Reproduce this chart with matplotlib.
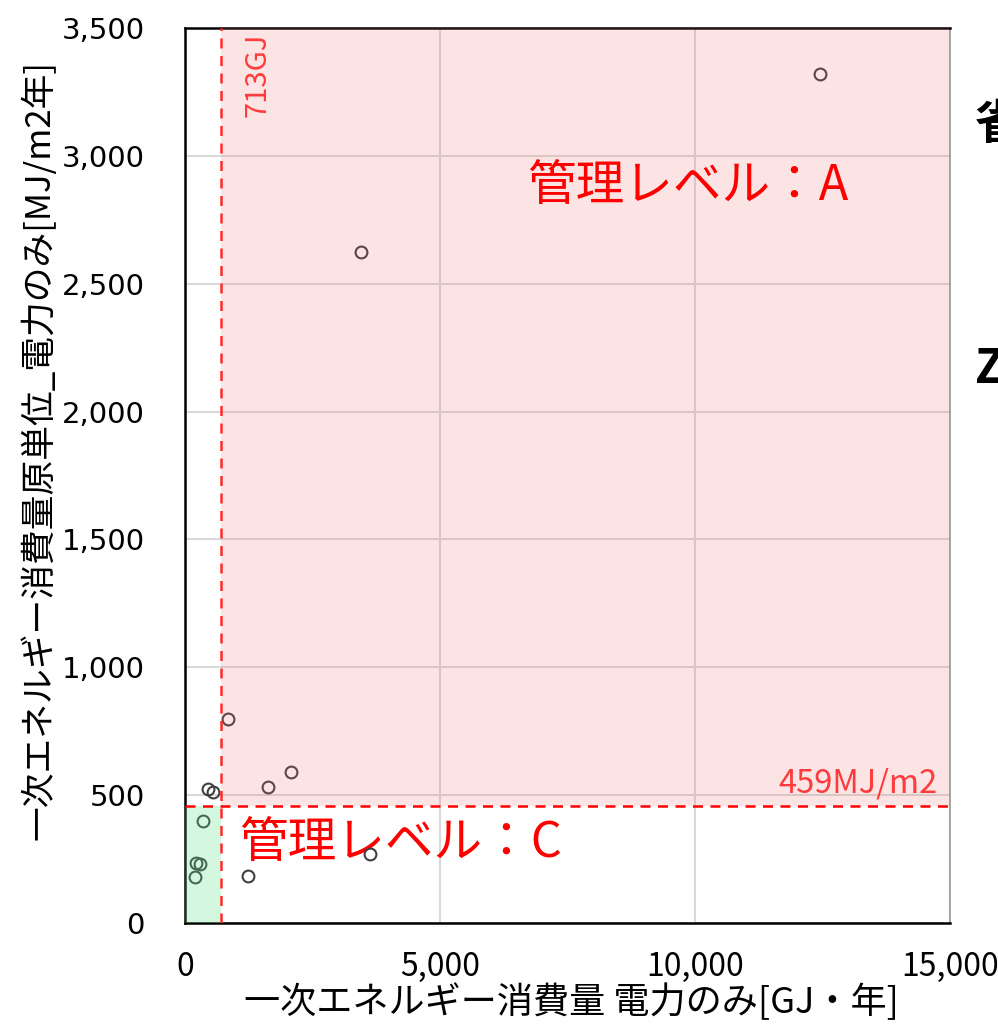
import matplotlib.pyplot as plt

plt.rcParams['font.family'] = ['Noto Sans CJK JP', 'DejaVu Sans']

# data
energy_gj = [12450, 3450, 843, 2078, 1627, 451, 549, 353, 216, 294, 196, 1235, 3627]
intensity = [3320, 2624, 798, 590, 532, 524, 512, 399, 235, 231, 180, 184, 270]
limit_x = 713
limit_y = 459
x_ticks = [0, 5000, 10000, 15000]
y_ticks = [0, 500, 1000, 1500, 2000, 2500, 3000, 3500]

fig = plt.figure(figsize=(9.98, 10.25), dpi=100)
ax = fig.add_axes([0.1854, 0.0995, 0.7665, 0.8732])

ax.plot(energy_gj, intensity, 'o', mfc='none', mec='#404040', mew=1.5, ms=8.5, zorder=3)

# shaded zones drawn on top with transparency
ax.fill_between([limit_x, 15000], limit_y, 3500, color='#f06464', alpha=0.17, lw=0, zorder=4)
ax.fill_between([0, limit_x], 0, limit_y, color='#57e383', alpha=0.25, lw=0, zorder=4)

ax.axvline(limit_x, color='#ff2a2a', ls=(0, (4, 3)), lw=1.8, zorder=5)
ax.axhline(limit_y, color='#ff0000', ls=(0, (4, 3)), lw=1.8, zorder=5)

ax.text(limit_x + 420, 3480, '713GJ', rotation=90, color='#ff3b3b', fontsize=21,
        ha='left', va='top', zorder=6)
ax.text(14750, limit_y + 25, '459MJ/m2', color='#ff3b3b', fontsize=23.5,
        ha='right', va='bottom', zorder=6)
ax.text(6700, 2880, '管理レベル：A', color='#ff0000', fontsize=35, ha='left', va='center', zorder=6)
ax.text(1070, 310, '管理レベル：C', color='#ff0000', fontsize=35, ha='left', va='center', zorder=2)

ax.set_xlim(0, 15000)
ax.set_ylim(0, 3500)
ax.set_xticks(x_ticks, [f'{v:,}' for v in x_ticks], fontsize=23)
ax.set_yticks(y_ticks, [f'{v:,}' for v in y_ticks], fontsize=21, fontfamily='DejaVu Sans')
ax.tick_params(axis='x', length=0, pad=20)
ax.tick_params(axis='y', length=0, pad=29)

ax.grid(True, color='#d9d9d9', lw=1.5, zorder=0)
ax.set_axisbelow(True)
for side in ['left', 'bottom', 'top']:
    ax.spines[side].set_color('black')
    ax.spines[side].set_linewidth(1.8)
ax.spines['right'].set_color('#999999')
ax.spines['right'].set_linewidth(1.2)

ax.set_xlabel('一次エネルギー消費量 電力のみ[GJ・年]', fontsize=26)
ax.set_ylabel('一次エネルギー消費量原単位_電力のみ[MJ/m2年]', fontsize=25)
ax.xaxis.set_label_coords(0.505, -0.089)
ax.yaxis.set_label_coords(-0.19, 0.528)
ax.xaxis.label.set_va('center')
ax.yaxis.label.set_va('center')

# partial text cut off at the right edge, as in the source image
fig.text(0.977, 0.878, '省', fontsize=34, fontweight='bold', ha='left', va='center')
fig.text(0.977, 0.640, 'Z', fontsize=34, fontweight='bold', ha='left', va='center')

fig.savefig('out.png', dpi=100)
